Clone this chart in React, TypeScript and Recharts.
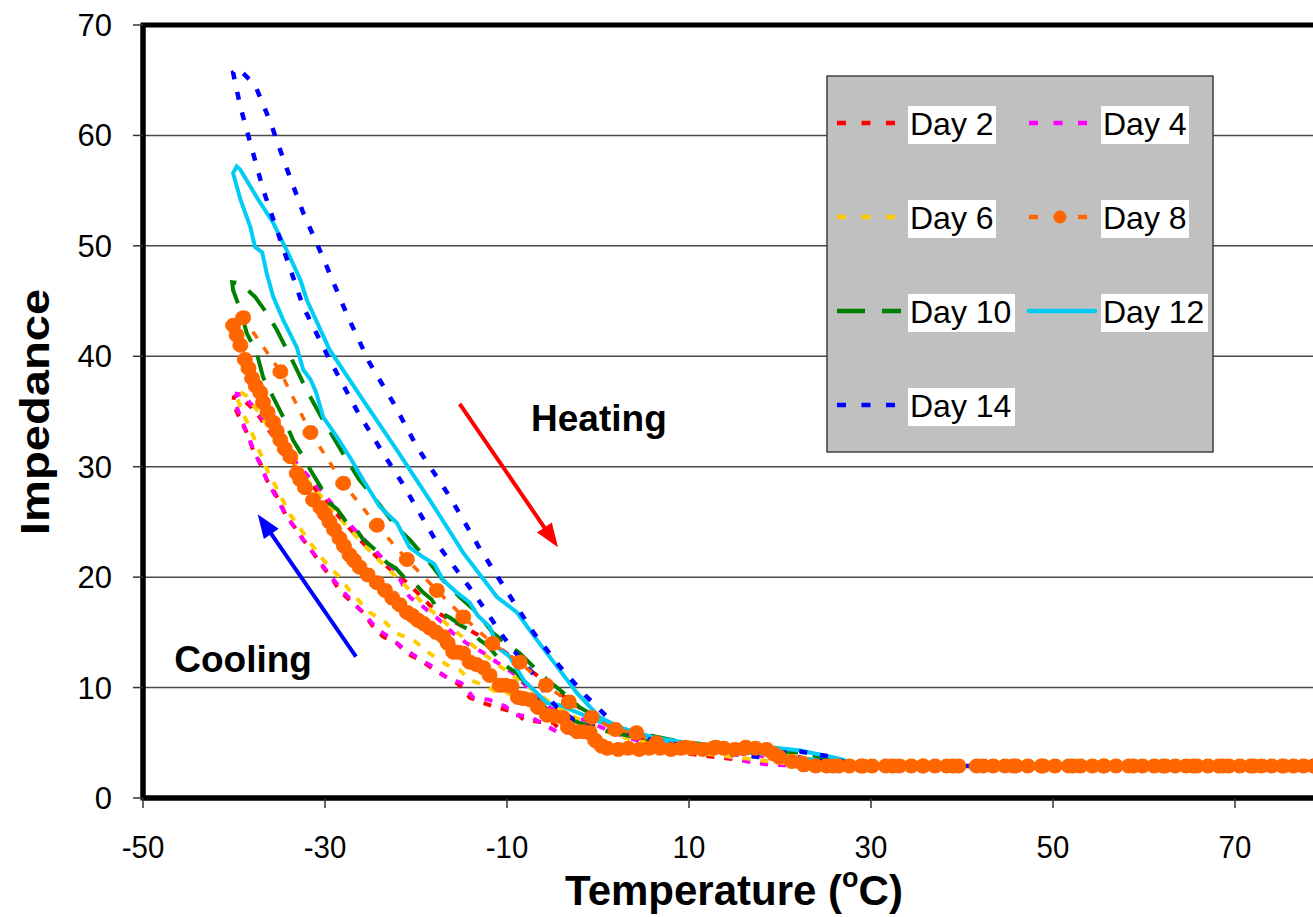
import React from 'react'
import { LineChart, Line, XAxis, YAxis, CartesianGrid, Legend, ReferenceLine, ReferenceDot, ReferenceArea } from 'recharts'

const xTicks = [-50, -30, -10, 10, 30, 50, 70]
const yTicks = [0, 10, 20, 30, 40, 50, 60, 70]

// [temperature, impedance] in recorded order: cooling from hot, then heating back
const day2 = [
  [80, 2.9], [50, 2.9], [30, 2.9], [22, 3.0], [18, 3.2], [14, 3.6], [10, 4.0], [6, 4.3], [2, 4.6], [0, 5.2],
  [-0.9, 5.7], [-3.1, 6.0], [-4.2, 6.2], [-4.9, 6.8], [-6.5, 6.9], [-8.2, 7.1], [-8.9, 7.7], [-11.1, 8.2],
  [-12.6, 8.6], [-14.1, 9.1], [-14.8, 9.9], [-15.5, 10.4], [-17.4, 11.3], [-18.5, 11.9], [-19.6, 12.5],
  [-21.0, 13.1], [-22.1, 14.0], [-23.6, 14.6], [-24.7, 15.5], [-25.8, 16.8], [-27.3, 17.9], [-28.4, 18.8],
  [-29.1, 19.7], [-30.2, 20.9], [-31.3, 22.2], [-32.4, 23.4], [-33.1, 24.3], [-34.2, 25.4], [-34.9, 26.7],
  [-35.7, 27.9], [-36.4, 28.8], [-37.1, 30.3], [-37.9, 31.5], [-38.6, 33.1], [-39.3, 34.2], [-40.1, 35.8],
  [-40.0, 36.3], [-39.6, 36.5], [-37.7, 35.1], [-36.0, 33.1], [-33.8, 30.8], [-31.4, 28.3], [-28.9, 25.9],
  [-26.2, 23.4], [-23.4, 21.1], [-20.7, 19.3], [-17.7, 16.8], [-14.8, 15.5], [-11.5, 14.0], [-8.6, 12.2],
  [-6.0, 10.7], [-3.6, 9.1], [-0.9, 7.5], [2.4, 6.2], [5.7, 5.0], [11.2, 4.5], [17.8, 4.2], [22.2, 3.7],
  [25.5, 3.1], [30, 2.9], [80, 2.9],
]

const day4 = [
  [80, 2.9], [40, 2.9], [25, 2.9], [18.9, 3.0], [16.4, 3.3], [13.4, 3.9], [9, 4.2], [4, 4.4], [1, 4.8],
  [-1, 5.6], [-2.7, 5.9], [-4.5, 6.0], [-5.6, 6.5], [-7.5, 7.4], [-9.0, 7.5], [-10.2, 8.3], [-12.0, 8.9],
  [-13.7, 9.1], [-15.0, 10.4], [-16.8, 11.0], [-18.2, 11.9], [-19.8, 12.7], [-21.3, 13.5], [-22.8, 14.5],
  [-24.3, 15.3], [-25.5, 16.5], [-26.9, 17.7], [-28.1, 18.8], [-29.3, 20.0], [-30.4, 21.2], [-31.5, 22.4],
  [-32.6, 23.6], [-33.6, 24.8], [-34.5, 25.9], [-35.4, 27.3], [-36.3, 28.6], [-37.0, 30.0], [-37.8, 31.4],
  [-38.5, 32.9], [-39.2, 34.3], [-39.9, 35.9], [-39.7, 36.6], [-39.0, 36.5], [-37.4, 35.0], [-35.5, 32.6],
  [-33.1, 30.3], [-30.5, 27.9], [-27.8, 25.2], [-25.1, 22.9], [-22.3, 20.6], [-20.7, 18.2], [-19.2, 17.3],
  [-17.4, 16.1], [-15.9, 14.9], [-14.4, 14.0], [-12.7, 13.2], [-11.5, 12.5], [-9.3, 11.3], [-7.1, 9.5],
  [-5.3, 8.2], [-3.4, 7.3], [-1.6, 7.1], [1.5, 6.0], [5, 5.0], [10, 4.4], [16, 4.0], [21, 3.5], [25, 3.0],
  [30, 2.9], [80, 2.9],
]

const day6 = [
  [80, 2.9], [40, 2.9], [25, 2.9], [20, 3.2], [15, 3.7], [10, 4.2], [5, 4.5], [1, 5.0], [-1.5, 5.8],
  [-3.5, 6.5], [-4.8, 7.0], [-5.5, 7.9], [-6.7, 8.2], [-8.2, 9.1], [-10.0, 9.5], [-11.0, 9.5], [-12.2, 10.1],
  [-14.1, 10.7], [-15.2, 11.6], [-16.3, 11.9], [-18.5, 13.1], [-20.3, 14.3], [-22.1, 14.9], [-23.6, 16.1],
  [-25.1, 16.8], [-27.3, 18.8], [-28.4, 20.0], [-29.6, 21.0], [-30.8, 22.2], [-31.9, 23.4], [-32.8, 24.5],
  [-33.8, 25.6], [-34.6, 26.9], [-35.4, 28.2], [-36.2, 29.4], [-36.9, 30.8], [-37.6, 32.2], [-38.3, 33.6],
  [-39.0, 34.8], [-39.7, 36.3], [-39.4, 36.8], [-38.6, 36.4], [-37.0, 34.6], [-35.0, 32.0], [-32.8, 29.6],
  [-30.3, 27.2], [-27.6, 24.6], [-24.9, 22.2], [-22.0, 19.9], [-19.2, 17.6], [-16.4, 15.6], [-13.6, 13.7],
  [-10.9, 12.0], [-8.2, 10.4], [-5.5, 8.8], [-2.8, 7.4], [0.5, 6.1], [4, 5.2], [9, 4.6], [15, 4.3], [20, 4.0],
  [24, 3.4], [28, 2.9], [80, 2.9],
]

const day8 = [
  [80, 2.9], [78.7, 2.9], [77.5, 2.9], [76.4, 2.9], [75.2, 2.9], [74.0, 2.9], [72.9, 2.9], [71.7, 2.9],
  [70.5, 2.9], [69.3, 2.9], [68.2, 2.9], [67.0, 2.9], [65.8, 2.9], [64.6, 2.9], [63.4, 2.9], [62.3, 2.9],
  [61.1, 2.9], [59.8, 2.9], [58.3, 2.9], [56.9, 2.9], [55.6, 2.9], [54.3, 2.9], [53.0, 2.9], [51.7, 2.9],
  [50.2, 2.9], [48.7, 2.9], [47.2, 2.9], [45.9, 2.9], [44.7, 2.9], [43.4, 2.9], [41.6, 2.9], [39.6, 2.9],
  [38.3, 2.9], [37.0, 2.9], [35.7, 2.9], [34.4, 2.9], [33.1, 2.9], [31.6, 2.9], [30.1, 2.9], [28.9, 2.9],
  [27.6, 2.9], [26.4, 2.9], [25.1, 2.9], [23.9, 2.9], [22.6, 3.0], [21.3, 3.3], [19.9, 3.7], [18.5, 4.4],
  [17.3, 4.5], [16.1, 4.5], [15.0, 4.4], [13.8, 4.5], [12.6, 4.5], [11.5, 4.4], [10.3, 4.5], [9.1, 4.5],
  [8.0, 4.4], [6.8, 4.5], [5.6, 4.5], [4.5, 4.4], [3.3, 4.5], [2.2, 4.4], [1.0, 4.5], [0.4, 4.7], [-0.3, 5.2],
  [-0.9, 5.9], [-1.6, 6.0], [-2.3, 6.0], [-3.3, 6.4], [-3.9, 7.3], [-4.8, 7.4], [-5.6, 7.5], [-6.6, 8.2],
  [-7.5, 8.9], [-8.2, 9.0], [-8.8, 9.1], [-9.5, 10.1], [-10.2, 10.2], [-10.8, 10.2], [-11.9, 11.1],
  [-12.6, 11.8], [-13.4, 12.1], [-14.1, 12.3], [-14.8, 13.1], [-15.4, 13.2], [-15.9, 13.2], [-16.5, 14.0],
  [-17.0, 14.6], [-17.8, 15.0], [-18.5, 15.4], [-19.2, 15.8], [-19.8, 16.1], [-20.4, 16.5], [-21.0, 16.8],
  [-21.8, 17.5], [-22.6, 18.1], [-23.4, 18.8], [-24.3, 19.5], [-25.3, 20.2], [-26.2, 20.9], [-26.8, 21.5],
  [-27.3, 22.0], [-27.9, 22.8], [-28.4, 23.5], [-29.0, 24.3], [-29.5, 25.0], [-30.0, 25.7], [-30.5, 26.3],
  [-31.3, 27.0], [-32.2, 28.1], [-32.7, 28.8], [-33.1, 29.4], [-33.8, 30.9], [-34.4, 31.6], [-34.9, 32.4],
  [-35.3, 33.2], [-35.7, 34.0], [-36.3, 34.9], [-36.8, 35.8], [-37.1, 36.7], [-37.6, 37.3], [-38.0, 38.0],
  [-38.4, 38.9], [-38.8, 39.7], [-39.3, 41.0], [-39.7, 41.9], [-40.1, 42.8],
  [-39.0, 43.5], [-34.9, 38.6], [-31.6, 33.1], [-28.0, 28.5], [-24.3, 24.7], [-21.0, 21.6], [-17.7, 18.8],
  [-14.8, 16.4], [-11.6, 14.0], [-8.6, 12.3], [-5.7, 10.2], [-3.2, 8.7], [-0.7, 7.3], [1.9, 6.2], [4.2, 5.9],
  [6.4, 5.0], [9.6, 4.6], [12.9, 4.6], [16.2, 4.6], [19.3, 4.0], [22.5, 3.1], [25.8, 2.9], [29.1, 2.9],
  [32.4, 2.9], [35.7, 2.9], [39.0, 2.9], [42.3, 2.9], [45.6, 2.9], [48.9, 2.9], [52.2, 2.9], [55.5, 2.9],
  [58.8, 2.9], [62.1, 2.9], [65.4, 2.9], [68.7, 2.9], [72.0, 2.9], [75.3, 2.9], [78.6, 2.9],
]

const day10 = [
  [80, 2.9], [50, 2.9], [30, 2.9], [22.2, 3.6], [16, 4.2], [11.2, 4.5], [4.6, 5.4], [0.2, 6.2], [-3.1, 7.1],
  [-5.3, 7.7], [-6.2, 8.6], [-7.1, 9.1], [-8.0, 10.4], [-8.9, 11.3], [-10.2, 12.0], [-11.1, 12.8],
  [-12.1, 13.8], [-13.0, 14.3], [-14.0, 15.2], [-14.8, 15.5], [-16.2, 16.3], [-17.4, 16.8], [-18.3, 18.0],
  [-19.2, 18.6], [-20.0, 19.3], [-21.0, 19.7], [-22.2, 20.8], [-23.2, 21.3], [-24.5, 22.5], [-25.8, 23.4],
  [-26.7, 24.5], [-27.6, 24.9], [-28.6, 26.1], [-29.5, 26.7], [-30.5, 28.2], [-31.6, 29.7], [-32.4, 30.9],
  [-33.5, 32.4], [-34.6, 34.5], [-35.7, 36.3], [-36.8, 38.1], [-37.5, 40.3], [-38.6, 42.1], [-39.3, 44.2],
  [-40.1, 46.0], [-40.2, 46.7], [-39.3, 46.6], [-37.7, 45.4], [-36.4, 43.9], [-35.3, 42.4], [-34.2, 40.6],
  [-33.1, 38.8], [-32.0, 36.9], [-30.2, 34.2], [-29.1, 32.7], [-27.6, 30.6], [-26.2, 28.8], [-24.7, 27.3],
  [-22.1, 24.5], [-20.7, 23.4], [-18.5, 21.3], [-17.0, 19.7], [-15.2, 18.2], [-13.3, 16.8], [-11.5, 14.9],
  [-8.6, 13.1], [-5.6, 10.7], [-4.2, 9.8], [-2.0, 8.2], [-0.1, 7.3], [1.6, 6.4], [4.3, 5.9], [9.0, 5.1],
  [15.6, 4.5], [22.2, 4.1], [26.6, 3.4], [29.9, 2.9], [50, 2.9], [80, 2.9],
]

const day12 = [
  [80, 2.9], [50, 2.9], [30, 2.9], [24, 3.4], [18, 4.0], [10, 4.6], [4.6, 5.7], [0.2, 6.9], [-4.2, 8.4],
  [-5.6, 8.6], [-6.7, 9.5], [-8.2, 10.7], [-9.7, 12.8], [-11.0, 13.6], [-11.9, 15.5], [-13.2, 16.5],
  [-14.1, 17.7], [-15.5, 18.6], [-17.0, 19.7], [-18.0, 21.2], [-19.2, 21.8], [-20.7, 22.7], [-22.1, 24.9],
  [-24.0, 26.4], [-25.8, 28.8], [-27.3, 30.9], [-28.7, 32.7], [-30.2, 34.5], [-31.0, 36.8], [-31.6, 37.9],
  [-32.4, 38.8], [-33.1, 40.8], [-34.6, 43.3], [-35.7, 45.4], [-36.4, 47.5], [-36.9, 49.4], [-37.7, 49.9],
  [-38.2, 51.7], [-39.3, 54.2], [-40.1, 56.6], [-39.7, 57.2], [-39.3, 56.9], [-37.5, 54.4], [-35.7, 52.1],
  [-34.2, 49.6], [-32.7, 46.9], [-32.0, 45.1], [-29.5, 40.6], [-25.8, 36.0], [-22.1, 31.5], [-18.5, 27.0],
  [-14.8, 22.2], [-11.1, 18.2], [-8.9, 16.8], [-6.7, 14.3], [-4.5, 11.9], [-2.3, 9.5], [0.2, 7.3], [2.4, 6.4],
  [6.0, 5.5], [11.2, 4.8], [18.9, 4.6], [22.2, 4.3], [26.3, 3.6], [28.8, 3.0], [33, 2.9], [80, 2.9],
]

const day14 = [
  [80, 2.9], [60, 2.9], [40, 2.9], [30, 2.9], [25, 3.3], [19, 3.6], [11, 4.3], [5.7, 5.3], [0.2, 6.6],
  [-2.7, 7.1], [-4.5, 8.2], [-5.6, 9.2], [-7.1, 11.2], [-8.9, 13.0], [-10.4, 14.6], [-12.2, 16.8],
  [-13.7, 18.6], [-15.5, 20.6], [-17.4, 22.7], [-19.6, 25.8], [-21.5, 28.5], [-23.6, 31.2], [-26.5, 35.1],
  [-29.5, 39.7], [-32.4, 44.5], [-34.9, 50.5], [-36.8, 55.1], [-38.2, 59.3], [-39.3, 62.6], [-40.1, 65.7],
  [-39.6, 66.1], [-37.7, 64.6], [-36.0, 61.2], [-34.2, 57.0], [-32.4, 53.0], [-30.2, 48.9], [-27.5, 43.6],
  [-25.1, 39.4], [-22.5, 35.8], [-19.9, 31.8], [-16.3, 27.3], [-13.0, 22.6], [-10.0, 18.7], [-7.1, 15.0],
  [-4.2, 11.9], [-1.4, 9.3], [2.4, 6.2], [5.5, 5.3], [9.0, 4.8], [15.6, 4.3], [20, 4.1], [22.2, 4.2],
  [25.8, 3.7], [27.7, 3.0], [31, 2.9], [50, 2.9], [80, 2.9],
]

const toRows = (pts: number[][]) => pts.map(([t, z]) => ({ t, z }))

const FONT = 'Liberation Sans, Arial, sans-serif'

const series = [
  { name: 'Day 2', pts: day2, color: '#FF0000', dash: '8 10', width: 4 },
  { name: 'Day 4', pts: day4, color: '#FF00FF', dash: '8 10', width: 4 },
  { name: 'Day 6', pts: day6, color: '#FFCC00', dash: '8 10', width: 4 },
  { name: 'Day 10', pts: day10, color: '#008000', dash: '26 15', width: 4 },
  { name: 'Day 12', pts: day12, color: '#00CCF5', dash: undefined, width: 4 },
  { name: 'Day 14', pts: day14, color: '#0000FF', dash: '8 13', width: 4.5 },
  { name: 'Day 8', pts: day8, color: '#FF6600', dash: '8 11', width: 3.5 },
]

const legendItems = [
  { name: 'Day 2', color: '#FF0000', dash: '9 15.5', col: 0, row: 0, box: 88 },
  { name: 'Day 4', color: '#FF00FF', dash: '9 15.5', col: 1, row: 0, box: 88 },
  { name: 'Day 6', color: '#FFCC00', dash: '9 15.5', col: 0, row: 1, box: 88 },
  { name: 'Day 8', color: '#FF6600', dash: '9 15.5', col: 1, row: 1, box: 88, dot: true },
  { name: 'Day 10', color: '#008000', dash: '28 17', col: 0, row: 2, box: 107, len: 64 },
  { name: 'Day 12', color: '#00CCF5', dash: undefined, col: 1, row: 2, box: 107, len: 66 },
  { name: 'Day 14', color: '#0000FF', dash: '9 15.5', col: 0, row: 3, box: 107 },
]

const LegendBox = () => (
  <svg width={390} height={380} style={{ display: 'block' }}>
    <rect x={1} y={1} width={386} height={376} fill="#C0C0C0" stroke="#404040" strokeWidth={1.5} />
    {legendItems.map((it) => {
      const cy = 48 + it.row * 94
      const sx = it.col === 0 ? 11 : 203
      const bx = it.col === 0 ? 82 : 275
      const len = it.len || 58
      return (
        <g key={it.name}>
          <line x1={sx} y1={cy} x2={sx + len} y2={cy} stroke={it.color} strokeWidth={4.5}
            strokeDasharray={it.dash} strokeLinecap={it.dash ? 'butt' : 'round'} />
          {it.dot && <circle cx={sx + 31} cy={cy} r={6.5} fill={it.color} />}
          <rect x={bx} y={cy - 17} width={it.box} height={38} fill="#fff" />
          <text x={bx + 2} y={cy + 12} fontSize={32} fontFamily={FONT} fill="#000">{it.name}</text>
        </g>
      )
    })}
  </svg>
)

const Arrow = (props: any) => {
  const { x1, y1, x2, y2, stroke } = props
  const ang = Math.atan2(y2 - y1, x2 - x1)
  const len = 24
  const half = 9
  const bx = x2 - len * Math.cos(ang)
  const by = y2 - len * Math.sin(ang)
  const px = -Math.sin(ang) * half
  const py = Math.cos(ang) * half
  return (
    <g>
      <line x1={x1} y1={y1} x2={bx + 4 * Math.cos(ang)} y2={by + 4 * Math.sin(ang)} stroke={stroke} strokeWidth={4} />
      <polygon points={`${x2},${y2} ${bx + px},${by + py} ${bx - px},${by - py}`} fill={stroke} />
    </g>
  )
}

const textAt = (label: string) => (p: any) => (
  <text x={p.cx} y={p.cy} textAnchor="middle" fontSize={37} fontWeight="bold" fontFamily={FONT} fill="#000">
    {label}
  </text>
)

const XTick = (p: any) => (
  <g transform={`translate(${p.x},${p.y})`}>
    <text transform="scale(0.95,1)" x={0} y={50} textAnchor="middle" fontSize={31} fontFamily={FONT} fill="#000">
      {p.payload.value}
    </text>
  </g>
)

const YTick = (p: any) => (
  <text x={p.x} y={p.y + 11} textAnchor="end" fontSize={31} fontFamily={FONT} fill="#000">
    {p.payload.value}
  </text>
)

const XTitle = () => (
  <text x={734} y={905} textAnchor="middle" fontSize={42} fontWeight="bold" fontFamily={FONT} fill="#000">
    Temperature (<tspan fontSize={27} dy={-18}>o</tspan><tspan dy={18}>C)</tspan>
  </text>
)

const YTitle = () => (
  <text transform="translate(49,412) rotate(-90) scale(1.15,1)" textAnchor="middle" fontSize={41}
    fontWeight="bold" fontFamily={FONT} fill="#000">
    Impedance
  </text>
)

export default function App() {
  return (
    <div style={{ position: 'absolute', left: 0, top: 0, width: 1313, height: 917, overflow: 'hidden', background: '#fff' }}>
      <LineChart width={1340} height={917} margin={{ top: 25, right: 14, bottom: 0, left: 0 }}>
        <CartesianGrid vertical={false} stroke="#4a4a4a" strokeWidth={1.5} />
        <XAxis dataKey="t" type="number" domain={[-50, 80]} ticks={xTicks} allowDataOverflow
          height={119} tickSize={10} tickMargin={0} tick={XTick}
          axisLine={{ stroke: '#000', strokeWidth: 5 }} tickLine={{ stroke: '#333', strokeWidth: 1.5 }}
          label={{ content: XTitle }} />
        <YAxis type="number" domain={[0, 70]} ticks={yTicks} allowDataOverflow width={143}
          tickSize={10} tickMargin={21} tick={YTick}
          axisLine={{ stroke: '#000', strokeWidth: 5 }} tickLine={{ stroke: '#333', strokeWidth: 1.5 }}
          label={{ content: YTitle }} />
        {series.map((s) => (
          <Line key={s.name} name={s.name} data={toRows(s.pts)} dataKey="z" type="linear"
            stroke={s.color} strokeWidth={s.width} strokeDasharray={s.dash}
            dot={s.name === 'Day 8' ? { r: 7.5, fill: '#FF6600', stroke: '#FF6600', strokeWidth: 1 } : false}
            isAnimationActive={false} />
        ))}
        <ReferenceArea x1={-50} x2={80} y1={0} y2={70} fill="none" stroke="#000" strokeWidth={5} ifOverflow="visible" />
        <ReferenceLine segment={[{ x: -15.2, y: 35.7 }, { x: -4.4, y: 22.7 }]} stroke="#FF0000" shape={Arrow} ifOverflow="visible" />
        <ReferenceLine segment={[{ x: -26.6, y: 12.8 }, { x: -37.4, y: 25.7 }]} stroke="#0000FF" shape={Arrow} ifOverflow="visible" />
        <ReferenceDot x={0.1} y={33.2} r={0} shape={textAt('Heating')} ifOverflow="visible" />
        <ReferenceDot x={-39.0} y={11.4} r={0} shape={textAt('Cooling')} ifOverflow="visible" />
        <Legend layout="vertical" align="center" verticalAlign="middle" content={LegendBox}
          wrapperStyle={{ left: 826, top: 75, width: 390, height: 380 }} />
      </LineChart>
    </div>
  )
}
